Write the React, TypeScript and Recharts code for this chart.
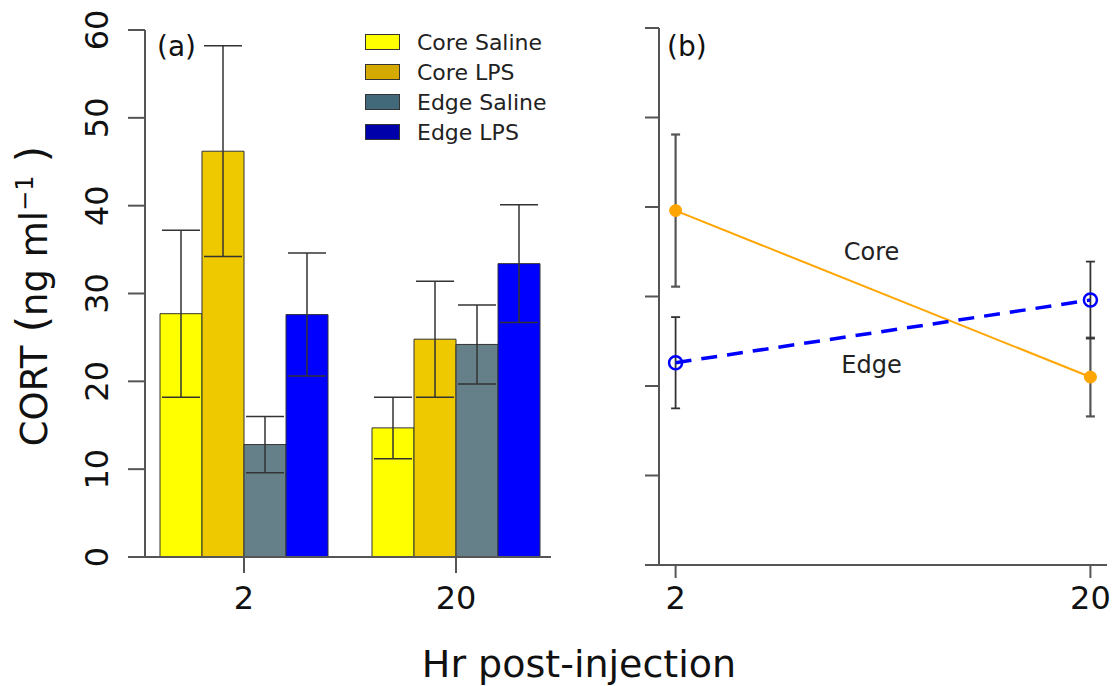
import { BarChart, Bar, LineChart, Line, XAxis, YAxis, ErrorBar, Legend, ReferenceDot, Label } from 'recharts';

const FONT = '"DejaVu Sans", Verdana, sans-serif';

// hours post-injection
const hours = ['2', '20'];
const hourValues = [2, 20];
const yTicks = [0, 10, 20, 30, 40, 50, 60];

// panel (a): group means and error
const coreSaline = [27.7, 14.7];
const coreSalineSE = [9.5, 3.5];
const coreLPS = [46.2, 24.8];
const coreLPSSE = [12.0, 6.6];
const edgeSaline = [12.8, 24.2];
const edgeSalineSE = [3.2, 4.5];
const edgeLPS = [27.6, 33.4];
const edgeLPSSE = [7.0, 6.7];

// panel (b): habitat means and error
const coreMean = [39.6, 21.0];
const coreSE = [8.5, 4.4];
const edgeMean = [22.6, 29.6];
const edgeSE = [5.1, 4.3];

const series = [
  { key: 'coreSaline', name: 'Core Saline', fill: '#FFFF00', legend: '#FFFF00' },
  { key: 'coreLPS', name: 'Core LPS', fill: '#EEC900', legend: '#D4A900' },
  { key: 'edgeSaline', name: 'Edge Saline', fill: '#66808A', legend: '#41697A' },
  { key: 'edgeLPS', name: 'Edge LPS', fill: '#0000FF', legend: '#0000AA' },
];

const barData = hours.map((h, i) => ({
  i,
  coreSaline: coreSaline[i],
  coreSalineErr: coreSalineSE[i],
  coreLPS: coreLPS[i],
  coreLPSErr: coreLPSSE[i],
  edgeSaline: edgeSaline[i],
  edgeSalineErr: edgeSalineSE[i],
  edgeLPS: edgeLPS[i],
  edgeLPSErr: edgeLPSSE[i],
}));

const lineData = hourValues.map((h, i) => ({
  h,
  core: coreMean[i],
  coreErr: coreSE[i],
  edge: edgeMean[i],
  edgeErr: edgeSE[i],
}));

const RotTick = (props: any) => {
  const { x, y, payload } = props;
  return (
    <text x={x} y={y} transform={`rotate(-90, ${x}, ${y})`} textAnchor="middle" fontSize={32} fill="#111" fontFamily={FONT}>
      {payload.value}
    </text>
  );
};

const renderLegend = () => (
  <div style={{ fontFamily: FONT, fontSize: 22, color: '#222' }}>
    {series.map((s) => (
      <div key={s.key} style={{ display: 'flex', alignItems: 'center', height: 30 }}>
        <div style={{ width: 33, height: 14, background: s.legend, border: '1px solid #333', marginRight: 17 }} />
        <span>{s.name}</span>
      </div>
    ))}
  </div>
);

const axisTick = { fontSize: 32, fill: '#111', fontFamily: FONT };

export default function App() {
  return (
    <div style={{ position: 'relative', width: 1115, height: 686, background: '#fff', overflow: 'hidden' }}>
      <style>{'body{margin:0}'}</style>
      <div style={{ position: 'absolute', left: 0, top: 0 }}>
        <BarChart width={560} height={620} data={barData} margin={{ top: 30, right: 9, bottom: 0, left: 0 }} barGap={0} barCategoryGap={22}>
          <XAxis
            type="number"
            dataKey="i"
            domain={[-0.467, 1.448]}
            ticks={[0, 1]}
            interval={0}
            tickFormatter={(v: number) => hours[v]}
            allowDataOverflow
            height={63}
            tickSize={16}
            tickMargin={13}
            stroke="#555"
            strokeWidth={2}
            tick={axisTick}
          />
          <YAxis
            type="number"
            domain={[0, 60]}
            ticks={yTicks}
            interval={0}
            allowDataOverflow
            width={145}
            tickSize={17}
            tickMargin={20}
            stroke="#555"
            strokeWidth={2}
            tick={<RotTick />}
          />
          {series.map((s) => (
            <Bar key={s.key} dataKey={s.key} name={s.name} fill={s.fill} stroke="#333" strokeWidth={1} isAnimationActive={false}>
              <ErrorBar dataKey={s.key + 'Err'} width={19} stroke="#333" strokeWidth={1.5} direction="y" />
            </Bar>
          ))}
          <Legend layout="vertical" align="center" verticalAlign="middle" content={renderLegend} wrapperStyle={{ left: 365, top: 27, width: 200 }} />
        </BarChart>
      </div>
      <div style={{ position: 'absolute', left: 560, top: 0 }}>
        <LineChart width={555} height={620} data={lineData} margin={{ top: 28, right: 8, bottom: 0, left: 0 }}>
          <XAxis
            type="number"
            dataKey="h"
            domain={[1.28, 20.72]}
            ticks={hourValues}
            interval={0}
            allowDataOverflow
            height={55}
            tickSize={13}
            tickMargin={8}
            stroke="#555"
            strokeWidth={2}
            tick={axisTick}
          />
          <YAxis
            type="number"
            domain={[0, 60]}
            ticks={yTicks}
            interval={0}
            allowDataOverflow
            width={99}
            tickSize={14}
            tickFormatter={() => ''}
            stroke="#555"
            strokeWidth={2}
          />
          <Line
            dataKey="core"
            stroke="#FFA500"
            strokeWidth={2}
            dot={{ r: 6, fill: '#FFA500', stroke: '#FFA500', strokeWidth: 1 }}
            isAnimationActive={false}
          >
            <ErrorBar dataKey="coreErr" width={4.5} stroke="#555" strokeWidth={2.2} direction="y" />
          </Line>
          <Line
            dataKey="edge"
            stroke="#0000FF"
            strokeWidth={3.5}
            strokeDasharray="16 10"
            dot={{ r: 6.5, fill: 'none', stroke: '#0000FF', strokeWidth: 2.5, strokeDasharray: 'none' }}
            isAnimationActive={false}
          >
            <ErrorBar dataKey="edgeErr" width={4.5} stroke="#333" strokeWidth={1.8} direction="y" />
          </Line>
          <ReferenceDot x={10.5} y={35} r={0} fill="none" stroke="none">
            <Label value="Core" position="center" fontSize={24} fill="#222" fontFamily={FONT} />
          </ReferenceDot>
          <ReferenceDot x={10.5} y={22.4} r={0} fill="none" stroke="none">
            <Label value="Edge" position="center" fontSize={24} fill="#222" fontFamily={FONT} />
          </ReferenceDot>
        </LineChart>
      </div>
      <svg width={1115} height={686} style={{ position: 'absolute', left: 0, top: 0, pointerEvents: 'none' }}>
        <text transform="translate(47, 296) rotate(-90)" textAnchor="middle" fontSize={37} fill="#111" fontFamily={FONT}>
          CORT
          <tspan fontSize={42}> (</tspan>
          ng ml
          <tspan dy={-14} fontSize={24}>−1</tspan>
          <tspan dy={14} fontSize={42}> )</tspan>
        </text>
        <text x={579} y={677} textAnchor="middle" fontSize={38} fill="#111" fontFamily={FONT}>
          Hr post-injection
        </text>
        <text x={157} y={56} fontSize={28} fill="#111" fontFamily={FONT}>(a)</text>
        <text x={667} y={56} fontSize={28} fill="#111" fontFamily={FONT}>(b)</text>
      </svg>
    </div>
  );
}
